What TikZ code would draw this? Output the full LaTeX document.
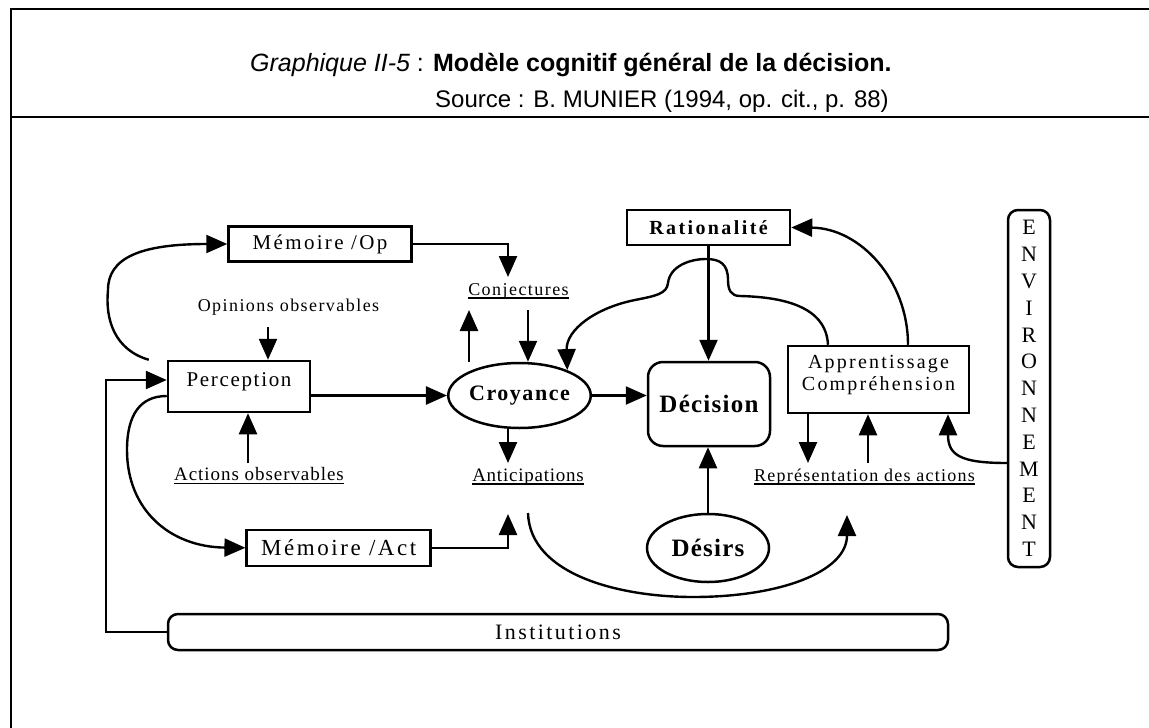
\documentclass[tikz,border=0pt]{standalone}
\usepackage{fontspec}
\setmainfont{Liberation Serif}
\newfontfamily\hdfont{Liberation Sans}
\usetikzlibrary{arrows.meta,shapes.geometric}

% size and letter spacing for the diagram labels
\newcommand\txtset[2]{\fontsize{#2}{#2}\selectfont\addfontfeature{LetterSpace=#1}}
% underline drawn as a rule under the whole label
\newcommand\undl[1]{\setbox0\hbox{#1}\rlap{\rule[-3.5pt]{\wd0}{1.4pt}}\box0}

\tikzset{
  conn/.style={line width=2.4pt},
  arr/.style={conn, -{Triangle[length=21pt,width=18pt]}},
  box/.style={draw, line width=2.5pt, inner sep=0pt},
  rbox/.style={box, rounded corners=12pt},
  oval/.style={box, ellipse},
  lbl/.style={inner sep=0pt},
  frame/.style={line width=2.2pt},
}

\begin{document}
\begin{tikzpicture}[x=1pt,y=-1pt]
\useasboundingbox (0,0) rectangle (1149,728);
\fill[white] (0,0) rectangle (1149,728);

% page frame and header
\draw[frame] (11,728) -- (11,9) -- (1149,9);
\draw[frame] (11,117) -- (1149,117);
\node[lbl, anchor=base west] (title) at (250,71)
  {\hdfont\fontsize{25}{25}\selectfont\itshape Graphique II-5\upshape{} : \bfseries Modèle cognitif général de la décision.};
\node[lbl, anchor=base west] (src) at (435,107)
  {\hdfont\fontsize{24}{24}\selectfont Source : B. MUNIER (1994, op. cit., p. 88)};

% boxes
\node[box, minimum width=183pt, minimum height=35pt, font=\txtset{11}{21}] (mop) at (320,244) {Mémoire /Op};
\node[box, minimum width=142pt, minimum height=51pt, text height=15pt, text depth=15pt, font=\txtset{8}{21}] (perc) at (239,386.5) {Perception};
\node[box, minimum width=184pt, minimum height=36pt, font=\txtset{11}{23}] (mact) at (338.7,547.8) {Mémoire /Act\hspace{8pt}};
\node[oval, minimum width=141pt, minimum height=65pt, font=\bfseries\txtset{7}{22}] (croy) at (519.5,395.5) {Croyance};
\node[rbox, rounded corners=15pt, minimum width=122pt, minimum height=84pt, font=\bfseries\txtset{5}{25}] (dec) at (709,404) {Décision};
\node[box, minimum width=163pt, minimum height=35pt, font=\bfseries\txtset{12}{20}] (rat) at (708.5,227.5) {Rationalité};
\node[box, minimum width=181pt, minimum height=67pt, align=center, text depth=14pt, font=\txtset{11}{20}] (appr) at (878.5,379.5) {Apprentissage\\[2pt]Compréhension};
\node[rbox, rounded corners=10pt, minimum width=42pt, minimum height=357pt, align=center, font=\fontsize{22}{26.8}\selectfont] (env) at (1029,388.5)
  {E\\N\\V\\I\\R\\O\\N\\N\\E\\M\\E\\N\\T};
\node[oval, minimum width=122pt, minimum height=68pt, font=\bfseries\txtset{5}{25}] (des) at (708,548) {Désirs};
\node[rbox, rounded corners=10pt, minimum width=780pt, minimum height=36pt, font=\txtset{11}{22}] (inst) at (558,632) {Institutions};

% free labels
\node[lbl, font=\txtset{8}{18}] (opin) at (288.5,307) {Opinions observables};
\node[lbl, font=\txtset{5}{19}] (actobs) at (259,476) {\undl{Actions observables}};
\node[lbl, font=\txtset{8}{18}] (conj) at (518.5,291) {\undl{Conjectures}};
\node[lbl, font=\txtset{4}{19}] (antic) at (528,477) {\undl{Anticipations}};
\node[lbl, font=\txtset{7}{18}] (repr) at (864.5,477) {\undl{Représentation des actions}};

% free ends of the connectors
\coordinate (opinTail) at (268,327);
\coordinate (actTail) at (248,463);
\coordinate (conjUp) at (469,310);
\coordinate (conjDown) at (528,310);
\coordinate (conjTip) at (508,277);
\coordinate (antTip) at (508,463);
\coordinate (antUpTip) at (508,514);
\coordinate (instTurn) at (106,632);
\coordinate (antCurve) at (528,513);
\coordinate (reprTip) at (847,515);
\coordinate (apDown) at (808,463);
\coordinate (apUp) at (868,463);

% straight connectors
\draw[arr] (opinTail) -- (opinTail |- perc.north);
\draw[arr] (actTail) -- (actTail |- perc.south);
\draw[arr] (perc.east |- croy.west) -- (croy.west);
\draw[arr] (croy.east) -- (croy.east -| dec.west);
\draw[arr] (rat.south) -- (rat.south |- dec.north);
\draw[arr] (des.north) -- (des.north |- dec.south);
\draw[arr] (conjUp |- croy.north) -- (conjUp);
\draw[arr] (conjDown) -- (conjDown |- croy.north);
\draw[arr] (mop.east) -| (conjTip);
\draw[arr] (antTip |- croy.south) -- (antTip);
\draw[arr] (mact.east) -| (antUpTip);
\draw[arr] (inst.west) -- (instTurn) |- ([yshift=6.5pt]perc.west);
\draw[arr] (apDown |- appr.south) -- (apDown);
\draw[arr] (apUp) -- (apUp |- appr.south);

% curved connectors
\draw[arr] ([xshift=-18pt]perc.north west) .. controls (115,350) and (105,320) .. (108,290)
  .. controls (108,258) and (140,244) .. (mop.west);
\draw[arr] ([yshift=-9.5pt]perc.west) .. controls (140,396) and (127,415) .. (127,450)
  .. controls (127,510) and (170,547) .. (mact.west);
\draw[arr] (antCurve) .. controls (530,575) and (620,597) .. (693,597)
  .. controls (780,597) and (847,572) .. (reprTip);
\draw[arr] ([xshift=29.5pt]appr.north) .. controls (908,280) and (860,228) .. (rat.east);
\draw[arr] ([yshift=-74.5pt]env.west) .. controls (960,463) and (948,455) .. ([xshift=69.5pt]appr.south);
\draw[arr] ([xshift=-50.5pt]appr.north) .. controls (826,305) and (780,297) .. (740,296)
  .. controls (731,296) and (728,290) .. (728,280)
  .. controls (728,264) and (720,259) .. (706,259)
  .. controls (690,259) and (670,266) .. (668,283)
  .. controls (667,294) and (655,296) .. (635,300)
  .. controls (595,308) and (566,330) .. (croy.28);
\end{tikzpicture}
\end{document}
